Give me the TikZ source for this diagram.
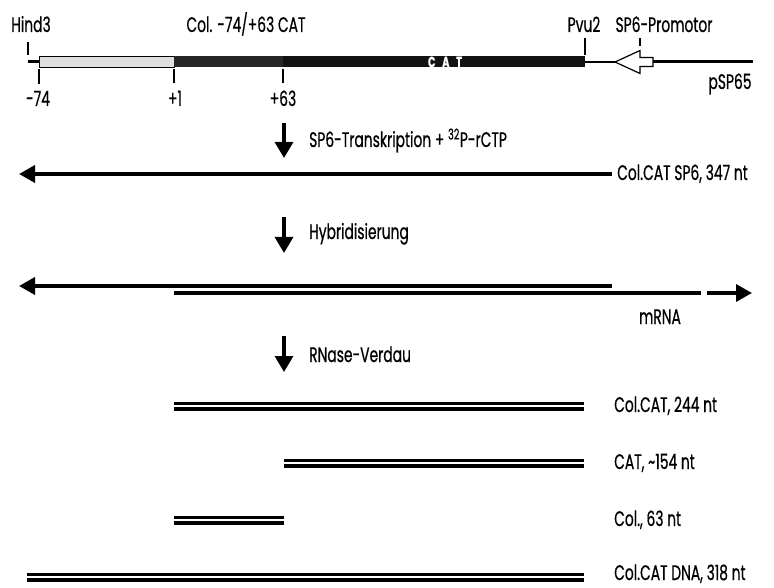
\documentclass[tikz,border=0pt]{standalone}
\usepackage{fontspec}
\setmainfont{Poppins}[FakeStretch=0.66,FakeBold=0.6]
\usetikzlibrary{arrows.meta}

\begin{document}
\begin{tikzpicture}[x=1pt,y=-1pt,
    lbl/.style={inner sep=0pt,anchor=base,font=\fontsize{21}{24}\selectfont},
    rlbl/.style={lbl,anchor=base west},
    tickm/.style={line width=1.3pt},
    rna/.style={line width=3.4pt},
    dna/.style={line width=3.2pt,double=white,double distance=2.6pt},
    lhead/.style={-{Triangle[length=16pt,width=17pt]}},
    procarrow/.style={line width=3.4pt,-{Triangle[length=16pt,width=18pt]}}]
  \useasboundingbox (0,0) rectangle (774,588);
  %
  \coordinate (hind) at (28,62);
  \coordinate (m74) at (39,62);
  \coordinate (p1) at (174,62);
  \coordinate (p63) at (283,62);
  \coordinate (pvu) at (585,62);
  \coordinate (tip) at (615,62);
  \coordinate (prom) at (640,62);
  \coordinate (tail) at (653,62);
  \coordinate (sp65) at (753,62);
  %
  \draw[line width=3pt] (hind) -- (m74);
  \filldraw[fill=gray!25,line width=1pt] (39,56.5) rectangle (174,67.5);
  \fill[black!85] (174,56.5) rectangle (283,67.5);
  \fill[black!93] (283,56.5) rectangle (585,67.5);
  \node[text=white,inner sep=0pt,font=\bfseries\fontsize{15}{16}\selectfont] (cat) at (445,62) {C\;\,A\;\,T};
  \draw[line width=2pt] (pvu) -- (tip);
  \draw[line width=3pt] (tail) -- (sp65);
  \draw[line width=1.2pt,fill=white] (tip) -- (640,50.5) -- (640,57.5) -- (653,57.5)
    -- (653,66.5) -- (640,66.5) -- (640,73.5) -- cycle;
  %
  \draw[tickm] (28,42) -- (28,55);
  \draw[tickm] (39,69) -- (39,84);
  \draw[tickm] (174,69) -- (174,83);
  \draw[tickm] (283,69) -- (283,83);
  \draw[tickm] (585,38) -- (585,55);
  \draw[tickm] (640,38) -- (640,46);
  %
  \node[lbl] (hindlbl) at (31,32) {Hind3};
  \node[lbl] (collbl) at (246,32) {Col. -74/+63 CAT};
  \node[lbl] (pvulbl) at (584,32) {Pvu2};
  \node[lbl] (promlbl) at (664,32) {SP6-Promotor};
  \node[lbl] (m74lbl) at (38,106) {-74};
  \node[lbl] (p1lbl) at (175,106) {+1};
  \node[lbl] (p63lbl) at (283,106) {+63};
  \node[lbl] (sp65lbl) at (730,89) {pSP65};
  %
  \coordinate (s1a) at (284,123);
  \coordinate (s1b) at (284,158);
  \draw[procarrow] (s1a) -- (s1b);
  \node[rlbl] (s1lbl) at (309,147) {SP6-Transkription + \textsuperscript{32}P-rCTP};
  \coordinate (r1a) at (612,174);
  \coordinate (r1b) at (19,174);
  \draw[rna,lhead] (r1a) -- (r1b);
  \node[rlbl] (r1lbl) at (617,180) {Col.CAT SP6, 347 nt};
  %
  \coordinate (s2a) at (284,217);
  \coordinate (s2b) at (284,253);
  \draw[procarrow] (s2a) -- (s2b);
  \node[rlbl] (s2lbl) at (309,239) {Hybridisierung};
  \coordinate (h1a) at (612,286);
  \coordinate (h1b) at (19,286);
  \draw[rna,lhead] (h1a) -- (h1b);
  \coordinate (m1a) at (174,293);
  \coordinate (m1b) at (701,293);
  \coordinate (m2a) at (707,293);
  \coordinate (m2b) at (752,293);
  \draw[rna] (m1a) -- (m1b);
  \draw[rna,lhead] (m2a) -- (m2b);
  \node[lbl] (mrnalbl) at (660,324) {mRNA};
  %
  \coordinate (s3a) at (284,336);
  \coordinate (s3b) at (284,372);
  \draw[procarrow] (s3a) -- (s3b);
  \node[rlbl] (s3lbl) at (309,362) {RNase-Verdau};
  %
  \coordinate (f1a) at (174,406);
  \coordinate (f1b) at (584,406);
  \coordinate (f2a) at (284,463);
  \coordinate (f2b) at (584,463);
  \coordinate (f3a) at (174,520);
  \coordinate (f3b) at (284,520);
  \coordinate (f4a) at (27,577);
  \coordinate (f4b) at (584,577);
  \draw[dna] (f1a) -- (f1b);
  \draw[dna] (f2a) -- (f2b);
  \draw[dna] (f3a) -- (f3b);
  \draw[dna] (f4a) -- (f4b);
  \node[rlbl] (f1lbl) at (614,412) {Col.CAT, 244 nt};
  \node[rlbl] (f2lbl) at (614,469) {CAT, \textasciitilde154 nt};
  \node[rlbl] (f3lbl) at (614,526) {Col., 63 nt};
  \node[rlbl] (f4lbl) at (614,580) {Col.CAT DNA, 318 nt};
\end{tikzpicture}
\end{document}
